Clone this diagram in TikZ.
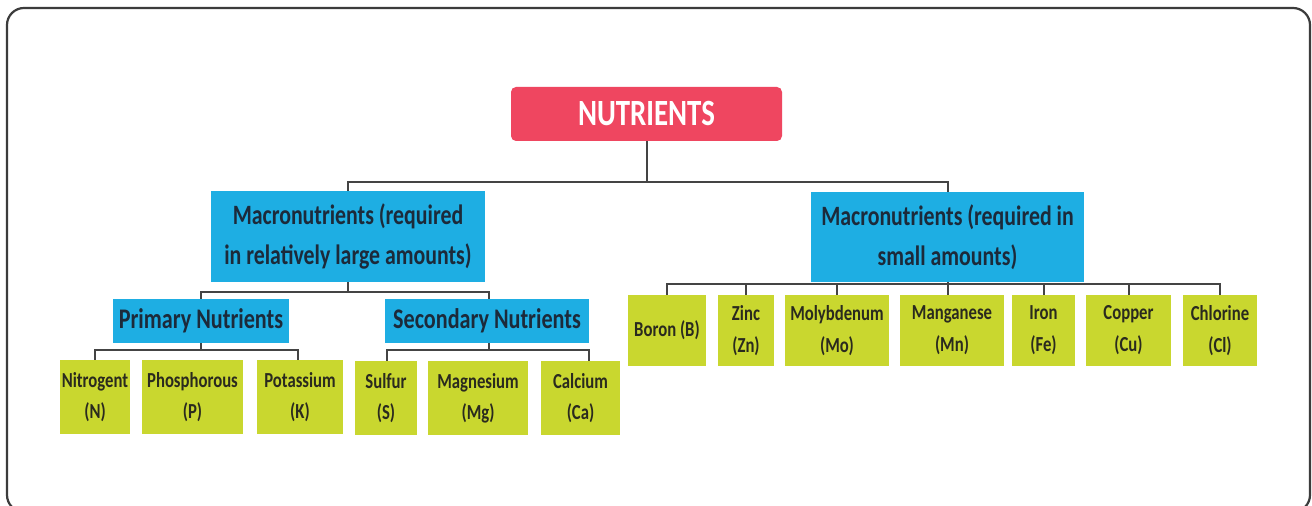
\documentclass[tikz,border=0pt]{standalone}
\usepackage{fontspec}
\setmainfont{Carlito}[FakeStretch=0.78]
\definecolor{nutred}{HTML}{EF4660}
\definecolor{macblue}{HTML}{1EAEE3}
\definecolor{leafgreen}{HTML}{C9D72F}
\definecolor{linegray}{HTML}{444444}
\definecolor{bluetext}{HTML}{1C2A3A}
\definecolor{leaftext}{HTML}{2A2A1E}
\definecolor{framegray}{HTML}{3C3C3C}
\tikzset{
  base/.style={inner sep=0pt, align=center, font=\bfseries},
  topbox/.style={base, fill=nutred, rounded corners=2.5pt, text=white,
    font=\bfseries\fontsize{18.5}{22}\selectfont},
  macbox/.style={base, fill=macblue, text=bluetext,
    font=\bfseries\fontsize{14}{20}\selectfont},
  subbox/.style={base, fill=macblue, text=bluetext,
    font=\bfseries\fontsize{14.2}{17}\selectfont},
  leafL/.style={base, fill=leafgreen, text=leaftext, minimum height=37pt,
    font=\bfseries\fontsize{10.7}{15.5}\selectfont},
  leafR/.style={base, fill=leafgreen, text=leaftext, minimum height=35.5pt,
    font=\bfseries\fontsize{10.7}{16}\selectfont},
  conn/.style={draw=linegray, line width=1pt},
}
\begin{document}
\begin{tikzpicture}[x=0.5pt, y=-0.5pt]
\useasboundingbox (0,0) rectangle (1312,506);
\fill[white] (0,0) rectangle (1312,506);
\begin{scope}
\clip (0,0) rectangle (1312,506);
\draw[framegray, line width=1.1pt, rounded corners=8.5pt] (7,8) rectangle (1310,512);
\end{scope}

% nodes
\node[topbox, minimum width=135.5pt, minimum height=27pt] (nut) at (646.5,114) {NUTRIENTS};
\node[macbox, minimum width=137pt, minimum height=45.5pt] (macL) at (348,236.5) {Macronutrients (required\\in relatively large amounts)};
\node[macbox, minimum width=136.5pt, minimum height=45pt] (macR) at (947.5,237) {Macronutrients (required in\\small amounts)};
\node[subbox, minimum width=88pt, minimum height=22pt] (prim) at (201,321) {Primary Nutrients};
\node[subbox, minimum width=102pt, minimum height=22pt] (sec) at (487,321) {Secondary Nutrients};

\node[leafL, minimum width=35pt] (nit) at (95,397) {Nitrogent\\(N)};
\node[leafL, minimum width=50.5pt] (pho) at (192.5,397) {Phosphorous\\(P)};
\node[leafL, minimum width=43pt] (pot) at (300,397) {Potassium\\(K)};
\node[leafL, minimum width=31pt] (sul) at (386,398) {\raisebox{-3pt}{Sulfur}\\\raisebox{-3pt}{(S)}};
\node[leafL, minimum width=50pt] (mag) at (478,398) {Magnesium\\(Mg)};
\node[leafL, minimum width=39.5pt] (cal) at (580.5,398) {Calcium\\(Ca)};

\node[leafR, minimum width=39pt] (bor) at (667,330.5) {Boron (B)};
\node[leafR, minimum width=28pt] (zin) at (746,330.5) {Zinc\\(Zn)};
\node[leafR, minimum width=52pt] (mol) at (837,330.5) {Molybdenum\\(Mo)};
\node[leafR, minimum width=52pt] (man) at (952,330.5) {Manganese\\(Mn)};
\node[leafR, minimum width=31.5pt] (iro) at (1043.5,330.5) {Iron\\(Fe)};
\node[leafR, minimum width=42.5pt] (cop) at (1128.5,330.5) {Copper\\(Cu)};
\node[leafR, minimum width=37pt] (chl) at (1220,330.5) {Chlorine\\(Cl)};

% bus levels
\coordinate (b1) at (0,182);
\coordinate (b2) at (0,292);
\coordinate (b3) at (0,350);
\coordinate (b4) at (0,284);

% connectors
\draw[conn] (nut.south) -- (nut.south |- b1);
\draw[conn] (macL.north) |- (nut.south |- b1) -| (macR.north);

\draw[conn] (macL.south) -- (macL.south |- b2);
\draw[conn] (prim.north) |- (macL.south |- b2) -| ([xshift=1pt]sec.north);

\draw[conn] (prim.south) -- (prim.south |- b3);
\draw[conn] (nit.north) |- (prim.south |- b3) -| ([xshift=-1pt]pot.north);

\draw[conn] ([xshift=1pt]sec.south) -- ([xshift=1pt]sec.south |- b3);
\draw[conn] ([xshift=0.5pt]sul.north) |- ([xshift=1pt]sec.south |- b3) -| ([xshift=4.25pt]cal.north);

\draw[conn] (macR.south) -- (macR.south |- b4);
\draw[conn] (bor.north) |- (macR.south |- b4) -| (chl.north);
\foreach \n in {zin,mol,iro,cop}{
  \draw[conn] (\n.north) -- (\n.north |- b4);
}
\draw[conn] (macR.south |- b4) -- (macR.south |- man.north);
\end{tikzpicture}
\end{document}
